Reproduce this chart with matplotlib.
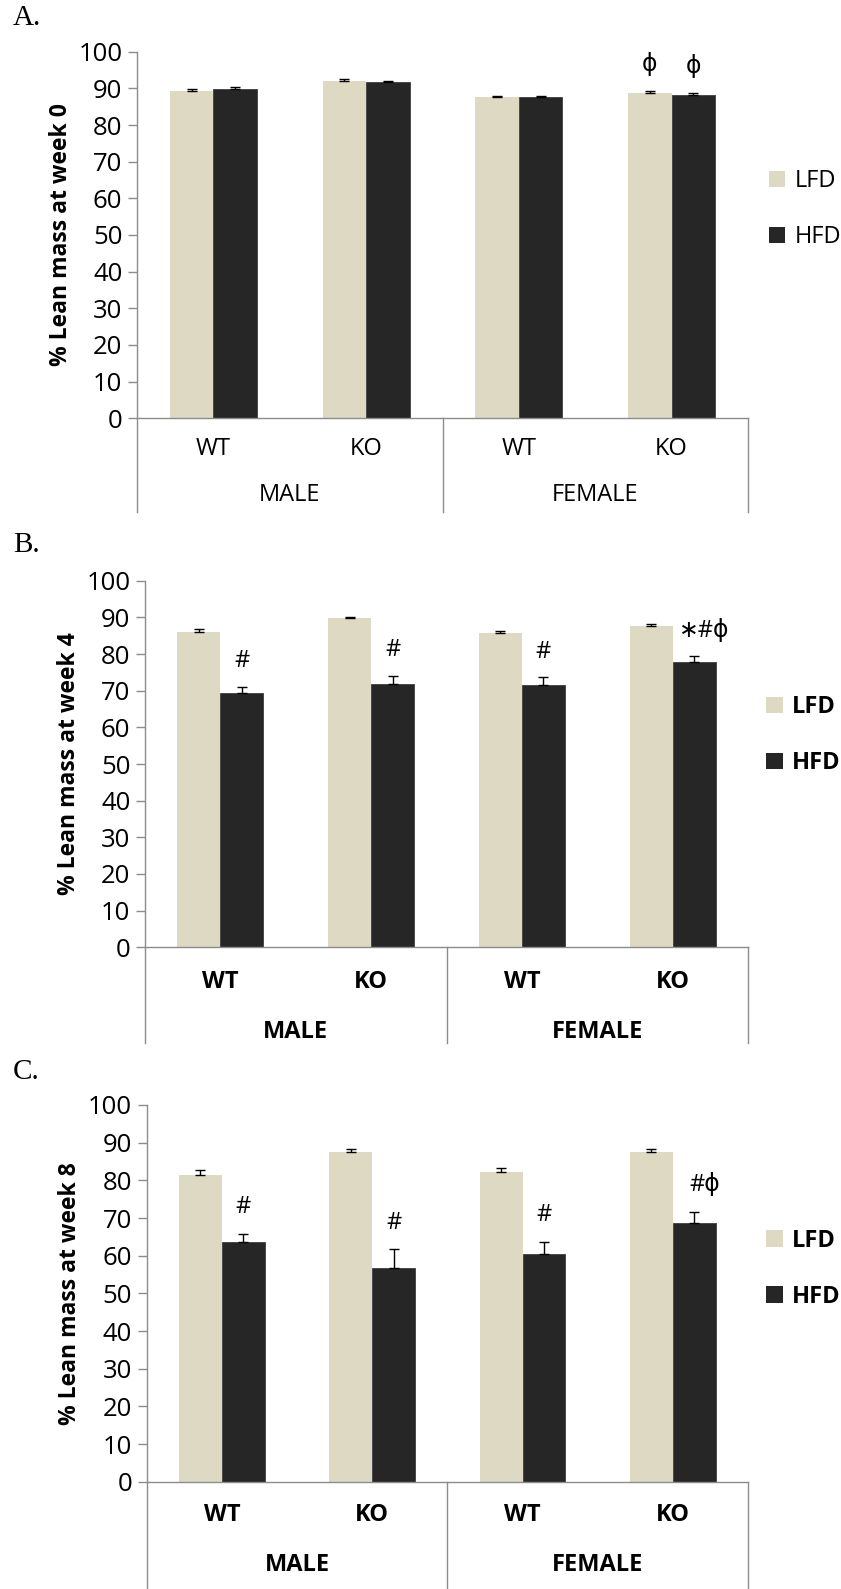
import matplotlib
matplotlib.use("Agg")
import matplotlib.pyplot as plt
import matplotlib.transforms as mtransforms
from matplotlib.patches import Patch
import numpy as np

plt.rcParams['font.family'] = ['Open Sans', 'DejaVu Sans']

# ---- data -------------------------------------------------------------
genotypes = ["WT", "KO", "WT", "KO"]
sexes = ["MALE", "FEMALE"]
diets = ["LFD", "HFD"]

week0_lfd = [89.4, 92.0, 87.6, 88.6]
week0_hfd = [89.8, 91.6, 87.6, 88.2]
week0_lfd_err = [0.5, 0.6, 0.4, 0.7]
week0_hfd_err = [0.6, 0.5, 0.4, 0.5]

week4_lfd = [86.1, 89.8, 85.6, 87.6]
week4_hfd = [69.5, 71.7, 71.5, 77.7]
week4_lfd_err = [0.6, 0.3, 0.6, 0.6]
week4_hfd_err = [1.5, 2.3, 2.1, 1.7]

week8_lfd = [81.4, 87.5, 82.3, 87.6]
week8_hfd = [63.7, 56.8, 60.5, 68.8]
week8_lfd_err = [1.3, 0.7, 1.1, 0.6]
week8_hfd_err = [2.1, 4.9, 3.2, 2.9]

# significance marks: (group index, diet index, text)
marks0 = [(3, 0, "ϕ"), (3, 1, "ϕ")]
marks4 = [(0, 1, "#"), (1, 1, "#"), (2, 1, "#"), (3, 1, "∗#ϕ")]
marks8 = [(0, 1, "#"), (1, 1, "#"), (2, 1, "#"), (3, 1, "#ϕ")]

ylabels = ["% Lean mass at week 0", "% Lean mass at week 4", "% Lean mass at week 8"]
panel_tags = ["A.", "B.", "C."]

# ---- styling ----------------------------------------------------------
LFD_COLOR = "#DDD9C3"
HFD_COLOR = "#262626"
AXIS_GRAY = "#8C8C8C"
W, H = 841, 1589
DPI = 100

fig = plt.figure(figsize=(W / DPI, H / DPI), dpi=DPI)


def px_axes(left, right, top, bottom):
    return fig.add_axes([left / W, 1 - bottom / H, (right - left) / W, (bottom - top) / H])


panels = [
    dict(box=(137, 748, 51.7, 418.3), lfd=week0_lfd, hfd=week0_hfd,
         le=week0_lfd_err, he=week0_hfd_err, marks=marks0, bold=False,
         box_bottom=-0.256, row1=-0.084, row2=-0.209, leg=(1.034, 0.57),
         tag_y=18),
    dict(box=(145, 748, 580.7, 947.3), lfd=week4_lfd, hfd=week4_hfd,
         le=week4_lfd_err, he=week4_hfd_err, marks=marks4, bold=True,
         box_bottom=-0.261, row1=-0.094, row2=-0.230, leg=(1.030, 0.578),
         tag_y=545),
    dict(box=(146.7, 748, 1105, 1481.7), lfd=week8_lfd, hfd=week8_hfd,
         le=week8_lfd_err, he=week8_hfd_err, marks=marks8, bold=True,
         box_bottom=-0.29, row1=-0.088, row2=-0.221, leg=(1.030, 0.565),
         tag_y=1072),
]

x = np.arange(len(genotypes))
bw = 0.285

for i, p in enumerate(panels):
    ax = px_axes(*p["box"])
    wt = "bold" if p["bold"] else "normal"

    ax.bar(x - bw / 2, p["lfd"], bw, color=LFD_COLOR, edgecolor="none", zorder=2)
    ax.bar(x + bw / 2, p["hfd"], bw, color=HFD_COLOR, edgecolor="#4a4a4a",
           linewidth=0.7, zorder=2)
    for off, vals, errs in ((-bw / 2, p["lfd"], p["le"]), (bw / 2, p["hfd"], p["he"])):
        ax.errorbar(x + off, vals, yerr=[np.zeros(len(vals)), errs], fmt="none",
                    ecolor="black", elinewidth=1.0, capsize=3.5, capthick=1.0, zorder=3)

    # significance marks above error bars
    for g, d, txt in p["marks"]:
        vals = p["lfd"] if d == 0 else p["hfd"]
        errs = p["le"] if d == 0 else p["he"]
        xpos = x[g] + (bw / 2 if d else -bw / 2)
        if len(txt) > 1:
            xpos += 0.07
        ax.text(xpos, vals[g] + errs[g] + 7.0, txt, ha="center", va="center",
                fontsize=17, color="black",
                family=["Open Sans", "DejaVu Sans"])

    ax.set_xlim(-0.5, len(genotypes) - 0.5)
    ax.set_ylim(0, 100)
    ax.set_yticks(np.arange(0, 101, 10))
    ax.tick_params(axis="y", direction="out", length=6.5, width=1.0, color=AXIS_GRAY,
                   labelsize=18.5, pad=4)
    ax.set_xticks([])
    for s in ("top", "right"):
        ax.spines[s].set_visible(False)
    for s in ("left", "bottom"):
        ax.spines[s].set_color(AXIS_GRAY)
        ax.spines[s].set_linewidth(1.0)

    ax.set_ylabel(ylabels[i], fontsize=16.5, fontweight="bold", labelpad=4)

    # grouped category box below the axis
    trans = mtransforms.blended_transform_factory(ax.transData, ax.transAxes)
    bb = p["box_bottom"]
    for xv in (-0.5, 1.5, 3.5):
        ax.plot([xv, xv], [0, bb], transform=trans, color=AXIS_GRAY, lw=1.0,
                clip_on=False, zorder=1)
    for xi, lab in zip(x, genotypes):
        ax.text(xi, p["row1"], lab, transform=trans, ha="center", va="center",
                fontsize=17, fontweight=wt)
    for k, lab in enumerate(sexes):
        ax.text(2 * k + 0.5, p["row2"], lab, transform=trans, ha="center",
                va="center", fontsize=17, fontweight=wt)

    handles = [Patch(facecolor=LFD_COLOR, edgecolor="none"),
               Patch(facecolor=HFD_COLOR, edgecolor="none")]
    ax.legend(handles, diets, loc="center left", bbox_to_anchor=p["leg"],
              frameon=False, borderpad=0, borderaxespad=0,
              handlelength=0.7, handleheight=0.7, handletextpad=0.4,
              labelspacing=1.35, prop=dict(size=17, weight=wt))

    fig.text(13 / W, 1 - p["tag_y"] / H, panel_tags[i], ha="left", va="center",
             fontsize=21, family="Liberation Serif")

fig.savefig("out.png", dpi=DPI)
